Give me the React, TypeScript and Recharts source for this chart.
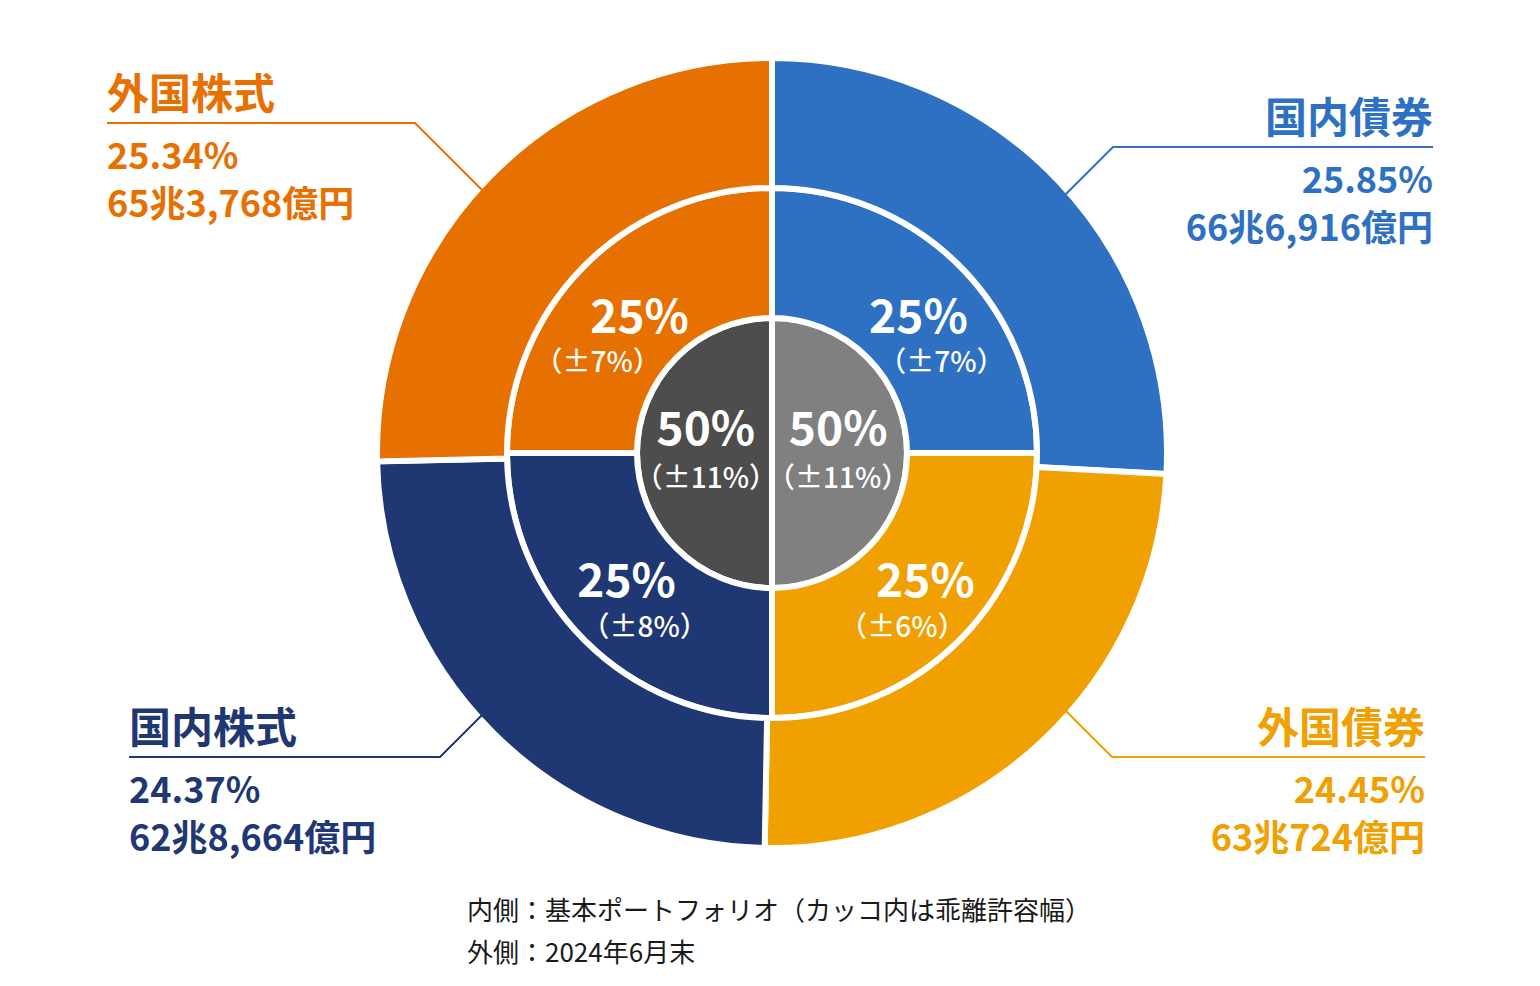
import React from "react";
import { PieChart, Pie, Cell } from "recharts";

const FONT = "'Noto Sans CJK JP', 'Noto Sans', sans-serif";

// 内側の円: 債券 / 株式
const coreNames = ["債券", "株式"];
const coreValues = [50, 50];
const coreBands = ["（±11%）", "（±11%）"];
const coreColors = ["#808080", "#4D4D4D"];

// 基本ポートフォリオ（中間のリング）
const assetNames = ["国内債券", "外国債券", "国内株式", "外国株式"];
const targetValues = [25, 25, 25, 25];
const targetBands = ["（±7%）", "（±6%）", "（±8%）", "（±7%）"];
const assetColors = ["#2E71C2", "#F0A000", "#1F3874", "#E67000"];

// 2024年6月末の実績（外側のリング）
const actualValues = [25.85, 24.45, 24.37, 25.34];
const actualAmounts = ["66兆6,916億円", "63兆724億円", "62兆8,664億円", "65兆3,768億円"];

const footnotes = ["内側：基本ポートフォリオ（カッコ内は乖離許容幅）", "外側：2024年6月末"];

const coreData = coreNames.map((name, i) => ({ name, value: coreValues[i] }));
const targetData = assetNames.map((name, i) => ({ name, value: targetValues[i] }));
const actualData = assetNames.map((name, i) => ({ name, value: actualValues[i] }));

// label placement tweaks for the middle ring (TR, BR, BL, TL)
const ringShift = [
  { main: [5, 21], sub: [28, 60] },
  { main: [12, 3], sub: [-11, 43] },
  { main: [-4, 3], sub: [14, 43] },
  { main: [9, 21], sub: [-33, 60] },
];

// callout boxes for the outer ring
const callouts: { lineY: number; elbowX: number; textX: number; anchor: "start" | "end" }[] = [
  { lineY: 147, elbowX: 1113, textX: 1433, anchor: "end" },
  { lineY: 757, elbowX: 1112, textX: 1425, anchor: "end" },
  { lineY: 757, elbowX: 440, textX: 129, anchor: "start" },
  { lineY: 123, elbowX: 415, textX: 107, anchor: "start" },
];

const RAD = Math.PI / 180;

const renderCore = (props: any) => {
  const { cx, cy, midAngle, outerRadius, index } = props;
  const r = outerRadius * 0.49;
  const x = cx + r * Math.cos(-midAngle * RAD);
  return (
    <g key={`core-${index}`} fontFamily={FONT} fill="#fff" textAnchor="middle">
      <text x={x} y={cy - 8} fontSize={46} fontWeight={700}>
        {coreValues[index]}%
      </text>
      <text x={x} y={cy + 35} fontSize={28} fontWeight={500}>
        {coreBands[index]}
      </text>
    </g>
  );
};

const renderRing = (props: any) => {
  const { cx, cy, midAngle, innerRadius, outerRadius, index } = props;
  const r = (innerRadius + outerRadius) / 2;
  const x = cx + r * Math.cos(-midAngle * RAD);
  const y = cy + r * Math.sin(-midAngle * RAD);
  const s = ringShift[index];
  return (
    <g key={`ring-${index}`} fontFamily={FONT} fill="#fff" textAnchor="middle">
      <text x={x + s.main[0]} y={y + s.main[1]} fontSize={46} fontWeight={700}>
        {targetValues[index]}%
      </text>
      <text x={x + s.sub[0]} y={y + s.sub[1]} fontSize={28} fontWeight={500}>
        {targetBands[index]}
      </text>
    </g>
  );
};

const renderCallout = (props: any) => {
  const { cx, cy, outerRadius, index } = props;
  const c = callouts[index];
  const color = assetColors[index];
  const R = outerRadius - 3;
  // 45° leader from the elbow toward the ring
  const dx = Math.sign(cx - c.elbowX) / Math.SQRT2;
  const dy = Math.sign(cy - c.lineY) / Math.SQRT2;
  const px = c.elbowX - cx;
  const py = c.lineY - cy;
  const pd = px * dx + py * dy;
  const disc = pd * pd - (px * px + py * py) + R * R;
  const t = -pd - Math.sqrt(Math.max(disc, 0)) + 8;
  const ex = c.elbowX + t * dx;
  const ey = c.lineY + t * dy;
  return (
    <g key={`callout-${index}`} fontFamily={FONT} fill={color} textAnchor={c.anchor} fontWeight={700}>
      <polyline
        points={`${c.textX},${c.lineY} ${c.elbowX},${c.lineY} ${ex},${ey}`}
        fill="none"
        stroke={color}
        strokeWidth={2}
      />
      <text x={c.textX} y={c.lineY - 14} fontSize={42}>
        {assetNames[index]}
      </text>
      <text x={c.textX} y={c.lineY + 46} fontSize={36}>
        {actualValues[index].toFixed(2)}%
      </text>
      <text x={c.textX} y={c.lineY + 94} fontSize={36}>
        {actualAmounts[index]}
      </text>
    </g>
  );
};

export default function App() {
  return (
    <div style={{ position: "absolute", left: 0, top: 0, width: 1540, height: 986, background: "#fff" }}>
      <PieChart width={1540} height={986} margin={{ top: 0, right: 0, bottom: 0, left: 0 }}>
        <Pie
          data={coreData}
          dataKey="value"
          cx={772}
          cy={453}
          startAngle={90}
          endAngle={-270}
          innerRadius={0}
          outerRadius={135}
          stroke="#fff"
          strokeWidth={6}
          label={renderCore}
          labelLine={false}
          isAnimationActive={false}
        >
          {coreData.map((d, i) => (
            <Cell key={d.name} fill={coreColors[i]} />
          ))}
        </Pie>
        <Pie
          data={targetData}
          dataKey="value"
          cx={772}
          cy={453}
          startAngle={90}
          endAngle={-270}
          innerRadius={135}
          outerRadius={265}
          stroke="#fff"
          strokeWidth={6}
          label={renderRing}
          labelLine={false}
          isAnimationActive={false}
        >
          {targetData.map((d, i) => (
            <Cell key={d.name} fill={assetColors[i]} />
          ))}
        </Pie>
        <Pie
          data={actualData}
          dataKey="value"
          cx={772}
          cy={453}
          startAngle={90}
          endAngle={-270}
          innerRadius={265}
          outerRadius={395}
          stroke="#fff"
          strokeWidth={6}
          label={renderCallout}
          labelLine={false}
          isAnimationActive={false}
        >
          {actualData.map((d, i) => (
            <Cell key={d.name} fill={assetColors[i]} />
          ))}
        </Pie>
      </PieChart>
      <svg width={1540} height={986} style={{ position: "absolute", left: 0, top: 0, pointerEvents: "none" }}>
        {footnotes.map((line, i) => (
          <text key={line} x={467} y={920 + i * 42} fontSize={26} fill="#1a1a1a" fontFamily={FONT}>
            {line}
          </text>
        ))}
      </svg>
    </div>
  );
}
